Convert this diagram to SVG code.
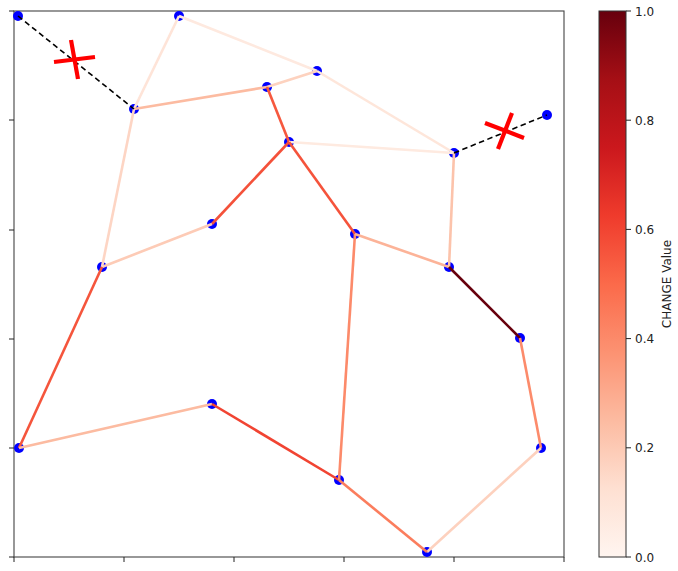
<svg xmlns="http://www.w3.org/2000/svg" width="678" height="571" viewBox="0 0 678 571">
<defs>
<linearGradient id="reds" x1="0" y1="1" x2="0" y2="0">
<stop offset="0" stop-color="#fff5f0"/>
<stop offset="0.125" stop-color="#fee0d2"/>
<stop offset="0.25" stop-color="#fcbba1"/>
<stop offset="0.375" stop-color="#fc9272"/>
<stop offset="0.5" stop-color="#fb6a4a"/>
<stop offset="0.625" stop-color="#ef3b2c"/>
<stop offset="0.75" stop-color="#cb181d"/>
<stop offset="0.875" stop-color="#a50f15"/>
<stop offset="1" stop-color="#67000d"/>
</linearGradient>
<style>
.e{fill:none;stroke-width:2.6;stroke-linecap:butt}
.d{fill:none;stroke:#000;stroke-width:1.6;stroke-dasharray:5.5,3.5}
.n{fill:#0000ff}
.ax{fill:none;stroke:#444;stroke-width:1.1}
.tk{stroke:#222;stroke-width:1}
.x{stroke:#ff0000;stroke-width:4.2;stroke-linecap:butt}
text{font-family:"DejaVu Sans",sans-serif;font-size:12px;fill:#222}
</style>
</defs>
<rect width="678" height="571" fill="#fff"/>
<g id="axes">
<rect class="ax" x="14" y="11" width="550" height="546"/>
<path class="tk" d="M14 557v5M124 557v5M234 557v5M344 557v5M454 557v5M564 557v5M14 557h-5M14 448h-5M14 339h-5M14 230h-5M14 120h-5M14 11h-5"/>
</g>
<g id="nodes">
<g id="A"><circle class="n" cx="18" cy="16" r="5"/></g>
<g id="B"><circle class="n" cx="179" cy="16" r="5"/></g>
<g id="C"><circle class="n" cx="134" cy="109" r="5"/></g>
<g id="D"><circle class="n" cx="267" cy="87" r="5"/></g>
<g id="E"><circle class="n" cx="317" cy="71" r="5"/></g>
<g id="F"><circle class="n" cx="289" cy="142" r="5"/></g>
<g id="G"><circle class="n" cx="454" cy="153" r="5"/></g>
<g id="H"><circle class="n" cx="547" cy="115" r="5"/></g>
<g id="I"><circle class="n" cx="212" cy="224" r="5"/></g>
<g id="J"><circle class="n" cx="102" cy="267" r="5"/></g>
<g id="K"><circle class="n" cx="355" cy="234" r="5"/></g>
<g id="L"><circle class="n" cx="449" cy="267" r="5"/></g>
<g id="M"><circle class="n" cx="520" cy="338" r="5"/></g>
<g id="N"><circle class="n" cx="19" cy="448" r="5"/></g>
<g id="O"><circle class="n" cx="212" cy="404" r="5"/></g>
<g id="P"><circle class="n" cx="541" cy="448" r="5"/></g>
<g id="Q"><circle class="n" cx="339" cy="480" r="5"/></g>
<g id="R"><circle class="n" cx="427" cy="552" r="5"/></g>
</g>
<g id="connectors">
<line class="e" x1="179" y1="16" x2="134" y2="109" stroke="#fee4d8"/>
<line class="e" x1="179" y1="16" x2="317" y2="71" stroke="#fee9df"/>
<line class="e" x1="317" y1="71" x2="454" y2="153" stroke="#fee6da"/>
<line class="e" x1="134" y1="109" x2="267" y2="87" stroke="#fcbba1"/>
<line class="e" x1="267" y1="87" x2="317" y2="71" stroke="#fdd2bf"/>
<line class="e" x1="267" y1="87" x2="289" y2="142" stroke="#f6583e"/>
<line class="e" x1="289" y1="142" x2="454" y2="153" stroke="#feeae0"/>
<line class="e" x1="289" y1="142" x2="212" y2="224" stroke="#f4513a"/>
<line class="e" x1="289" y1="142" x2="355" y2="234" stroke="#f5533b"/>
<line class="e" x1="212" y1="224" x2="102" y2="267" stroke="#fdcbb6"/>
<line class="e" x1="134" y1="109" x2="102" y2="267" stroke="#fdd5c4"/>
<line class="e" x1="102" y1="267" x2="19" y2="448" stroke="#f5553c"/>
<line class="e" x1="19" y1="448" x2="212" y2="404" stroke="#fcbba1"/>
<line class="e" x1="212" y1="404" x2="339" y2="480" stroke="#f14432"/>
<line class="e" x1="339" y1="480" x2="355" y2="234" stroke="#fc8a6a"/>
<line class="e" x1="355" y1="234" x2="449" y2="267" stroke="#fcb398"/>
<line class="e" x1="454" y1="153" x2="449" y2="267" stroke="#fcc3ab"/>
<line class="e" x1="449" y1="267" x2="520" y2="338" stroke="#67000d"/>
<line class="e" x1="520" y1="338" x2="541" y2="448" stroke="#fc8b6b"/>
<line class="e" x1="541" y1="448" x2="427" y2="552" stroke="#fdd1be"/>
<line class="e" x1="339" y1="480" x2="427" y2="552" stroke="#fb7d5d"/>
<line class="d" x1="18" y1="16" x2="134" y2="109"/>
<line class="d" x1="454" y1="153" x2="547" y2="115"/>
</g>
<g id="cut1">
<line class="x" x1="54" y1="62" x2="95" y2="57"/>
<line class="x" x1="71" y1="40" x2="78" y2="79"/>
</g>
<g id="cut2">
<line class="x" x1="485" y1="123" x2="524" y2="138"/>
<line class="x" x1="512" y1="113" x2="498" y2="149"/>
</g>
<g id="colorbar">
<rect x="599" y="11" width="27" height="546" fill="url(#reds)" stroke="#333" stroke-width="1"/>
<path class="tk" d="M626 11h5M626 120.2h5M626 229.4h5M626 338.6h5M626 447.8h5M626 557h5"/>
<text x="635" y="15.5">1.0</text>
<text x="635" y="124.7">0.8</text>
<text x="635" y="233.9">0.6</text>
<text x="635" y="343.1">0.4</text>
<text x="635" y="452.3">0.2</text>
<text x="635" y="561.5">0.0</text>
<text transform="translate(671,284) rotate(-90)" text-anchor="middle">CHANGE Value</text>
</g>
</svg>
